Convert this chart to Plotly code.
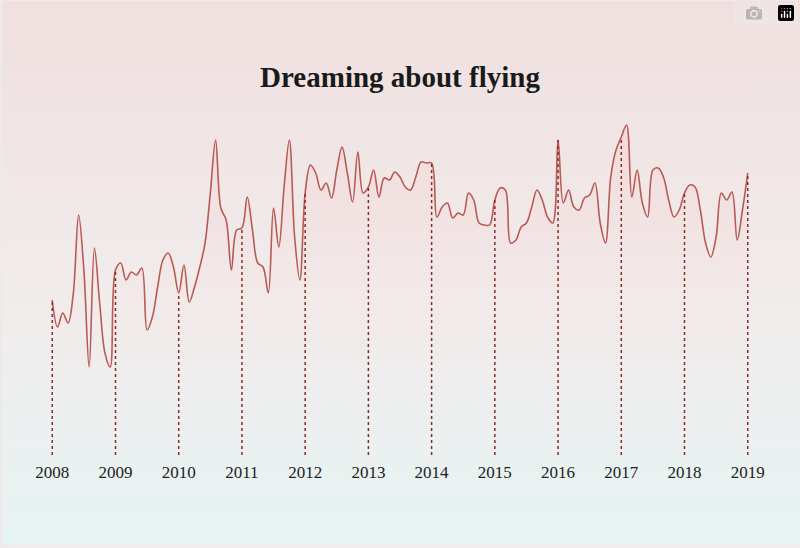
import base64
import plotly.graph_objects as go

# monthly values, Jan 2008 .. Jan 2019
values = [160, 133, 147, 137, 167, 245, 190, 93, 212, 157, 107, 93,
          190, 197, 180, 188, 185, 192, 130, 143, 173, 200, 207, 193,
          167, 195, 158, 173, 193, 217, 267, 320, 252, 240, 190, 230,
          232, 263, 230, 197, 193, 167, 252, 213, 273, 320, 223, 180,
          267, 295, 287, 270, 277, 262, 290, 313, 287, 258, 308, 267,
          273, 290, 263, 282, 280, 288, 283, 273, 270, 283, 298, 297,
          297, 243, 253, 257, 242, 247, 245, 267, 260, 237, 235, 235,
          260, 272, 270, 217, 220, 233, 237, 253, 270, 260, 243, 237,
          320, 257, 270, 253, 250, 262, 265, 277, 237, 217, 283, 310,
          323, 335, 263, 290, 257, 243, 290, 292, 283, 260, 243, 250,
          267, 275, 273, 250, 217, 203, 223, 267, 260, 268, 220, 250,
          287]
months = [2008 + k / 12 for k in range(len(values))]
years = list(range(2008, 2020))

svg = """<svg xmlns='http://www.w3.org/2000/svg' width='800' height='548'>
<defs><linearGradient id='g' x1='0' y1='0' x2='0' y2='1'>
<stop offset='0' stop-color='#f0dfdf'/><stop offset='0.55' stop-color='#f1ecec'/>
<stop offset='1' stop-color='#e7f3f3'/></linearGradient></defs>
<rect width='800' height='548' fill='url(#g)'/></svg>"""
bg = "data:image/svg+xml;base64," + base64.b64encode(svg.encode()).decode()

fig = go.Figure()
fig.add_trace(go.Scatter(
    x=months, y=values, mode="lines",
    line=dict(color="#b85a55", width=1.6, shape="spline", smoothing=1.0),
    fill="tozeroy",
    fillgradient=dict(type="vertical",
                      colorscale=[[0, "rgba(250,235,235,0)"], [1, "rgba(245,200,200,0.35)"]]),
    hoverinfo="skip", showlegend=False))

for yr in years:
    fig.add_trace(go.Scatter(
        x=[yr, yr], y=[5, values[(yr - 2008) * 12]], mode="lines",
        line=dict(color="#8e2a26", width=1.5, dash="dot"),
        hoverinfo="skip", showlegend=False))

fig.add_layout_image(dict(source=bg, xref="paper", yref="paper", x=-0.07, y=1.35,
                          sizex=1.15, sizey=1.6, sizing="stretch", layer="below"))

pad = 0.02
fig.update_layout(
    width=800, height=548,
    margin=dict(l=51, r=51, t=120, b=88),
    paper_bgcolor="#eeeaea", plot_bgcolor="rgba(0,0,0,0)",
    title=dict(text="<b>Dreaming about flying</b>", x=0.5, xanchor="center",
               y=0.86, yanchor="middle",
               font=dict(family="Liberation Serif", size=29, color="#1a1a1a")),
    xaxis=dict(range=[2008 - pad, 2019 + pad], tickvals=years, ticktext=[str(y) for y in years],
               showgrid=False, zeroline=False, showline=False, ticks="",
               tickfont=dict(family="Liberation Serif", size=17, color="#222"),
               fixedrange=True),
    yaxis=dict(range=[0, 340], visible=False, fixedrange=True),
)
fig.write_html("out.html")

with open("out.html", encoding="utf-8") as f:
    html = f.read()
html = html.replace("<head>", "<head><style>body{margin:0;}</style>", 1)
with open("out.html", "w", encoding="utf-8") as f:
    f.write(html)
